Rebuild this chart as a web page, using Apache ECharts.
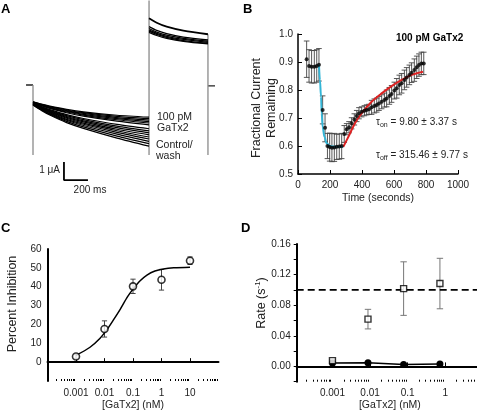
<!DOCTYPE html>
<html><head><meta charset="utf-8">
<script src="https://cdn.jsdelivr.net/npm/echarts@6/dist/echarts.min.js"></script>
<style>html,body{margin:0;padding:0;background:#fff}#c{width:477px;height:412px}</style>
</head><body><div id="c"></div>
<script>
// ---------- Panel A: current traces (time in ms, current in µA) ----------
const aPulseTimes = [0, 70, 140, 280, 420, 700, 967];
const aToxinTraces = [
  [-0.93,-1.06,-1.17,-1.35,-1.49,-1.68,-1.79],
  [-0.94,-1.08,-1.20,-1.39,-1.54,-1.74,-1.87],
  [-0.95,-1.10,-1.22,-1.42,-1.58,-1.81,-1.95],
  [-0.96,-1.11,-1.25,-1.46,-1.63,-1.87,-2.03],
  [-0.97,-1.13,-1.27,-1.50,-1.67,-1.93,-2.11],
  [-0.98,-1.15,-1.30,-1.54,-1.73,-2.01,-2.21]
];
const aControlTraces = [
  [-1.00,-1.20,-1.37,-1.65,-1.86,-2.19,-2.43],
  [-1.02,-1.23,-1.41,-1.70,-1.92,-2.28,-2.55],
  [-1.03,-1.25,-1.44,-1.75,-1.99,-2.37,-2.66],
  [-1.04,-1.27,-1.48,-1.80,-2.05,-2.46,-2.77],
  [-1.05,-1.30,-1.51,-1.85,-2.12,-2.54,-2.89],
  [-1.07,-1.32,-1.55,-1.91,-2.18,-2.63,-3.00],
  [-1.08,-1.35,-1.59,-1.96,-2.25,-2.73,-3.13],
  [-1.09,-1.38,-1.63,-2.02,-2.33,-2.84,-3.26],
  [-1.11,-1.41,-1.67,-2.09,-2.41,-2.95,-3.40]
];
const aTailTimes = [967, 1031, 1114, 1253, 1458];
const aTailTraces = [
  [3.71,3.46,3.24,3.02,2.82],
  [3.24,3.03,2.85,2.66,2.50],
  [3.14,2.94,2.77,2.59,2.43],
  [3.06,2.87,2.70,2.53,2.37],
  [2.99,2.81,2.64,2.47,2.32],
  [2.92,2.75,2.59,2.42,2.28]
];
const aHoldingLeft = [[-58, 0], [0, 0]];
const aHoldingRight = [[1458, -0.05], [1517, -0.05]];
const aTransients = [
  [[0, 0], [0, -3.89]],
  [[967, 4.7], [967, -3.89]],
  [[1458, 2.82], [1458, -3.89]]
];
const aScaleBar = [[258, -4.28], [258, -5.28], [458, -5.28]];

// ---------- Panel B: fractional current remaining vs time ----------
const bTime = [54,69,85,102,117,131,154,169,184,198,212,227,242,258,273,289,304,319,335,352,367,381,398,415,429,444,460,477,492,506,523,540,554,571,585,602,617,633,648,665,679,696,710,727,742,756,771,786];
const bMean = [0.910,0.886,0.883,0.883,0.886,0.890,0.729,0.665,0.600,0.596,0.594,0.595,0.597,0.598,0.600,0.643,0.660,0.667,0.681,0.695,0.707,0.717,0.722,0.726,0.729,0.731,0.738,0.743,0.746,0.752,0.758,0.764,0.770,0.779,0.786,0.798,0.806,0.818,0.824,0.836,0.845,0.854,0.862,0.871,0.881,0.889,0.895,0.895];
const bErr  = [0.065,0.058,0.058,0.058,0.058,0.058,0.050,0.050,0.045,0.050,0.050,0.050,0.045,0.045,0.045,0.030,0.020,0.020,0.020,0.020,0.020,0.020,0.018,0.018,0.018,0.018,0.025,0.025,0.025,0.025,0.025,0.025,0.030,0.030,0.030,0.030,0.035,0.035,0.035,0.035,0.035,0.035,0.035,0.040,0.040,0.040,0.040,0.040];
const bOnFitTime  = [131,137,144,148,154,165,179,200,240,283];
const bOnFitValue = [0.892,0.836,0.776,0.717,0.669,0.633,0.610,0.600,0.597,0.597];
const bOffFitTime  = [283,315,356,398,460,523,585,648,710,781];
const bOffFitValue = [0.597,0.633,0.681,0.717,0.758,0.788,0.814,0.836,0.854,0.865];

// ---------- Panel C: percent inhibition vs [GaTx2] ----------
const cConc = [0.001, 0.01, 0.1, 1, 10];
const cMean = [3.0, 17.6, 40.2, 43.7, 53.8];
const cErr  = [1.0, 4.3, 3.8, 5.5, 2.0];
const cFitConc  = [0.001,0.0031,0.007,0.012,0.0206,0.0355,0.0646,0.105,0.178,0.309,0.589,1.17,2.69,10];
const cFitValue = [3.6,7.9,12.7,17.1,22.4,28.0,34.7,39.1,43.2,46.2,48.3,49.4,50.0,50.3];
const cXTickLabels = [0.001, 0.01, 0.1, 1, 10];

// ---------- Panel D: rates vs [GaTx2] ----------
const dConc = [0.001, 0.0088, 0.078, 0.72];
const dOnRate = [0.0075, 0.0618, 0.1017, 0.1083];
const dOnErr  = [0.001, 0.0128, 0.035, 0.033];
const dOffRate = [0.0044, 0.0048, 0.0026, 0.0031];
const dRefRate = 0.10;
const dXTickLabels = [0.001, 0.01, 0.1, 1];

// ---------- helpers ----------
const FONT = 'Liberation Sans, Arial, sans-serif';
const TXT = '#222';
function minorLogTicks(lo, hi) {
  const out = [];
  for (let e = lo; e < hi; e++) for (let k = 2; k <= 9; k++) out.push(+(k * Math.pow(10, e)).toPrecision(6));
  return out;
}
function errorBars(xi, yi, xs, means, errs, color, cap, lw) {
  return {
    type: 'custom', xAxisIndex: xi, yAxisIndex: yi, silent: true, clip: false, z: 2,
    data: xs.map((x, i) => [x, means[i] - errs[i], means[i] + errs[i]]),
    encode: { x: 0, y: [1, 2] },
    renderItem(params, api) {
      const x = api.value(0), lo = api.value(1), hi = api.value(2);
      const a = api.coord([x, hi]), b = api.coord([x, lo]);
      const st = { stroke: color, lineWidth: lw };
      return { type: 'group', children: [
        { type: 'line', shape: { x1: a[0], y1: a[1], x2: b[0], y2: b[1] }, style: st },
        { type: 'line', shape: { x1: a[0] - cap, y1: a[1], x2: a[0] + cap, y2: a[1] }, style: st },
        { type: 'line', shape: { x1: b[0] - cap, y1: b[1], x2: b[0] + cap, y2: b[1] }, style: st }
      ]};
    }
  };
}
function lineS(xi, yi, data, color, width, extra) {
  return Object.assign({ type: 'line', xAxisIndex: xi, yAxisIndex: yi, data, symbol: 'none', silent: true,
    clip: false, animation: false, lineStyle: { color, width } }, extra || {});
}
const hiddenAxis = { show: false, splitLine: { show: false } };
const labelStyle = { color: TXT, fontFamily: FONT, fontSize: 10 };

const series = [];
// Panel A
series.push(lineS(0, 0, aHoldingLeft, '#222', 1.3));
series.push(lineS(0, 0, aHoldingRight, '#222', 1.3));
aTransients.forEach(t => series.push(lineS(0, 0, t, '#8a8a8a', 1.3)));
aToxinTraces.concat(aControlTraces).forEach(tr =>
  series.push(lineS(0, 0, aPulseTimes.map((t, i) => [t, tr[i]]), '#000', 1.2, { smooth: 0.25 })));
aTailTraces.forEach((tr, j) =>
  series.push(lineS(0, 0, aTailTimes.map((t, i) => [t, tr[i]]), '#000', j === 0 ? 1.8 : 1.3, { smooth: 0.3 })));
series.push(lineS(0, 0, aScaleBar, '#000', 1.8));

// Panel B
series.push(errorBars(1, 1, bTime, bMean, bErr, '#444', 2.8, 0.9));
series.push(lineS(1, 1, bOnFitTime.map((t, i) => [t, bOnFitValue[i]]), '#33b5d6', 2, { smooth: 0.4, smoothMonotone: 'x', z: 3 }));
series.push(lineS(1, 1, bOffFitTime.map((t, i) => [t, bOffFitValue[i]]), '#dd2222', 2, { smooth: 0.3, z: 3 }));
series.push({ type: 'scatter', xAxisIndex: 1, yAxisIndex: 1, silent: true, animation: false, z: 4,
  data: bTime.map((t, i) => [t, bMean[i]]), symbol: 'circle', symbolSize: 4, itemStyle: { color: '#000' } });

// Panel C
series.push(errorBars(2, 2, cConc, cMean, cErr, '#444', 2.6, 1));
series.push(lineS(2, 2, cFitConc.map((c, i) => [c, cFitValue[i]]), '#000', 1.5, { smooth: 0.3, z: 3 }));
series.push({ type: 'scatter', xAxisIndex: 2, yAxisIndex: 2, silent: true, animation: false, z: 4,
  data: cConc.map((c, i) => [c, cMean[i]]), symbol: 'circle', symbolSize: 7,
  itemStyle: { color: '#fff', borderColor: '#000', borderWidth: 1.6 } });

// Panel D
series.push(lineS(4, 3, [[0.000112, dRefRate], [10, dRefRate]], '#000', 1.6, { lineStyle: { color: '#000', width: 1.6, type: [7, 4] } }));
series.push(errorBars(4, 3, dConc, dOnRate, dOnErr, '#777', 3.2, 1));
series.push(lineS(4, 3, dConc.map((c, i) => [c, dOffRate[i]]), '#000', 1.5, {
  symbol: 'circle', symbolSize: 7, showSymbol: true, itemStyle: { color: '#000' }, z: 3 }));
series.push({ type: 'scatter', xAxisIndex: 4, yAxisIndex: 3, silent: true, animation: false, z: 5,
  data: dConc.map((c, i) => [c, dOnRate[i]]), symbol: 'rect', symbolSize: 6,
  itemStyle: { color: '#fff', borderColor: '#000', borderWidth: 1.4 } });

const logFmt = v => String(+(+v).toPrecision(6));

const option = {
  animation: false,
  backgroundColor: '#fff',
  textStyle: { fontFamily: FONT },
  grid: [
    { left: 21, top: 4, width: 204, height: 189, containLabel: false, outerBoundsMode: 'none' },
    { left: 298, top: 34, width: 160, height: 140, containLabel: false, outerBoundsMode: 'none' },
    { left: 47.5, top: 249, width: 171, height: 132, containLabel: false, outerBoundsMode: 'none' },
    { left: 296.7, top: 244, width: 186.2, height: 137.7, containLabel: false, outerBoundsMode: 'none' }
  ],
  xAxis: [
    Object.assign({ type: 'value', gridIndex: 0, min: -100, max: 1600 }, hiddenAxis),
    { type: 'value', gridIndex: 1, min: 0, max: 1000, interval: 200,
      axisLine: { lineStyle: { color: '#000', width: 1.5 } },
      axisTick: { inside: true, length: 4, lineStyle: { color: '#000', width: 1 } },
      axisLabel: Object.assign({ margin: 6, formatter: v => String(Math.round(v)) }, labelStyle), splitLine: { show: false },
      name: 'Time (seconds)', nameLocation: 'middle', nameGap: 19,
      nameTextStyle: { color: TXT, fontFamily: FONT, fontSize: 10.5 } },
    { type: 'log', logBase: 10, gridIndex: 2, min: 0.0001, max: 100,
      axisLine: { lineStyle: { color: '#000', width: 2 } },
      axisTick: { inside: true, length: 4, customValues: cXTickLabels, lineStyle: { color: '#000', width: 1 } },
      axisLabel: Object.assign({ margin: 7, customValues: cXTickLabels, formatter: logFmt }, labelStyle),
      splitLine: { show: false }, minorTick: { show: false },
      name: '[GaTx2] (nM)', nameLocation: 'middle', nameGap: 19,
      nameTextStyle: { color: TXT, fontFamily: FONT, fontSize: 10.5 } },
    { type: 'log', logBase: 10, gridIndex: 2, min: 0.0001, max: 100, position: 'bottom',
      axisLine: { show: false }, axisLabel: { show: false }, splitLine: { show: false },
      axisTick: { inside: true, length: 2, customValues: minorLogTicks(-4, 2), lineStyle: { color: '#000', width: 1 } } },
    { type: 'log', logBase: 10, gridIndex: 3, min: 0.000112, max: 10,
      axisLine: { lineStyle: { color: '#000', width: 2 } },
      axisTick: { inside: true, length: 4, customValues: dXTickLabels, lineStyle: { color: '#000', width: 1 } },
      axisLabel: Object.assign({ margin: 7, customValues: dXTickLabels, formatter: logFmt }, labelStyle),
      splitLine: { show: false },
      name: '[GaTx2] (nM)', nameLocation: 'middle', nameGap: 18, nameTextStyle: { color: TXT, fontFamily: FONT, fontSize: 10.5 } },
    { type: 'log', logBase: 10, gridIndex: 3, min: 0.000112, max: 10, position: 'bottom',
      axisLine: { show: false }, axisLabel: { show: false }, splitLine: { show: false },
      axisTick: { inside: true, length: 2, customValues: minorLogTicks(-4, 1).filter(v => v > 0.000112), lineStyle: { color: '#000', width: 1 } } }
  ],
  yAxis: [
    Object.assign({ type: 'value', gridIndex: 0, min: -6, max: 4.5 }, hiddenAxis),
    { type: 'value', gridIndex: 1, min: 0.5, max: 1.0, interval: 0.1,
      axisLine: { show: true, lineStyle: { color: '#000', width: 1.5 } },
      axisTick: { show: true, inside: true, length: 4, lineStyle: { color: '#000', width: 1 } },
      axisLabel: Object.assign({ margin: 5, formatter: v => (+v).toFixed(1) }, labelStyle), splitLine: { show: false } },
    { type: 'value', gridIndex: 2, min: -10, max: 60, interval: 10,
      axisLine: { show: true, lineStyle: { color: '#000', width: 2 } },
      axisTick: { show: false },
      axisLabel: Object.assign({ margin: 6, showMinLabel: false, formatter: v => (v < 0 ? '' : String(Math.round(v))) }, labelStyle),
      splitLine: { show: false } },
    { type: 'value', gridIndex: 3, min: -0.02, max: 0.16, interval: 0.02,
      axisLine: { show: true, lineStyle: { color: '#000', width: 2 } },
      axisTick: { show: true, inside: false, length: 3, lineStyle: { color: '#000', width: 1 } },
      axisLabel: Object.assign({ margin: 6, formatter: v => { const k = Math.round(v * 100); return (k >= 0 && k % 4 === 0) ? (k / 100).toFixed(2) : ''; } }, labelStyle),
      splitLine: { show: false } }
  ],
  graphic: [
    { type: 'text', x: 1, y: 9, style: { text: 'A', font: 'bold 13px ' + FONT, fill: '#000', verticalAlign: 'middle' } },
    { type: 'text', x: 243, y: 9, style: { text: 'B', font: 'bold 13px ' + FONT, fill: '#000', verticalAlign: 'middle' } },
    { type: 'text', x: 1, y: 228, style: { text: 'C', font: 'bold 13px ' + FONT, fill: '#000', verticalAlign: 'middle' } },
    { type: 'text', x: 241, y: 228, style: { text: 'D', font: 'bold 13px ' + FONT, fill: '#000', verticalAlign: 'middle' } },
    // Panel A annotations
    { type: 'text', x: 157, y: 117, style: { text: '100 pM', font: '10.5px ' + FONT, fill: TXT, verticalAlign: 'middle' } },
    { type: 'text', x: 157, y: 128, style: { text: 'GaTx2', font: '10.5px ' + FONT, fill: TXT, verticalAlign: 'middle' } },
    { type: 'text', x: 156, y: 145, style: { text: 'Control/', font: '10.5px ' + FONT, fill: TXT, verticalAlign: 'middle' } },
    { type: 'text', x: 156, y: 156, style: { text: 'wash', font: '10.5px ' + FONT, fill: TXT, verticalAlign: 'middle' } },
    { type: 'text', x: 60, y: 170, style: { text: '1 μA', font: '10px ' + FONT, fill: TXT, align: 'right', verticalAlign: 'middle' } },
    { type: 'text', x: 90, y: 190, style: { text: '200 ms', font: '10px ' + FONT, fill: TXT, align: 'center', verticalAlign: 'middle' } },
    // Panel B annotations
    { type: 'text', x: 396, y: 38, style: { text: '100 pM GaTx2', font: 'bold 10px ' + FONT, fill: '#000', verticalAlign: 'middle' } },
    { type: 'text', x: 376, y: 122, style: { text: '{m|τ}{s|on}{m| = 9.80 ± 3.37 s}', fill: TXT, verticalAlign: 'middle',
      rich: { m: { fontSize: 10, fontFamily: FONT, lineHeight: 14, fill: TXT }, s: { fontSize: 7, fontFamily: FONT, lineHeight: 8, verticalAlign: 'bottom', fill: TXT } } } },
    { type: 'text', x: 376, y: 155, style: { text: '{m|τ}{s|off}{m| = 315.46 ± 9.77 s}', fill: TXT, verticalAlign: 'middle',
      rich: { m: { fontSize: 10, fontFamily: FONT, lineHeight: 14, fill: TXT }, s: { fontSize: 7, fontFamily: FONT, lineHeight: 8, verticalAlign: 'bottom', fill: TXT } } } },
    { type: 'text', x: 264.5, y: 108, rotation: Math.PI / 2, style: { text: 'Fractional Current\nRemaining', font: '12.5px ' + FONT, lineHeight: 15, fill: TXT, align: 'center', verticalAlign: 'middle' } },
    // Panel C / D y titles
    { type: 'text', x: 13, y: 304, rotation: Math.PI / 2, style: { text: 'Percent Inhibition', font: '12.5px ' + FONT, fill: TXT, align: 'center', verticalAlign: 'middle' } },
    { type: 'text', x: 262, y: 303, rotation: Math.PI / 2, style: { text: '{m|Rate (s}{p|-1}{m|)}', align: 'center', verticalAlign: 'middle',
      rich: { m: { fontSize: 12.5, fontFamily: FONT, lineHeight: 16, fill: TXT }, p: { fontSize: 8, fontFamily: FONT, lineHeight: 9, verticalAlign: 'top', fill: TXT } } } }
  ],
  series
};
const chart = echarts.init(document.getElementById('c'), null, { renderer: 'canvas' });
chart.setOption(option);
</script></body></html>
